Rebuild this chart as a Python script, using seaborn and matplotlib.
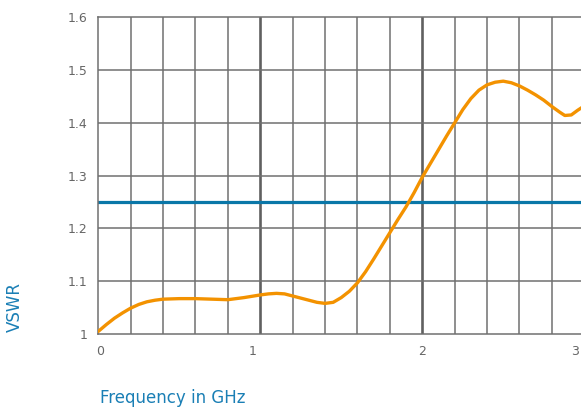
import seaborn as sns
import matplotlib.pyplot as plt
import pandas as pd

# VSWR curve
freq = [0.0, 0.05, 0.1, 0.15, 0.2, 0.25, 0.3, 0.35, 0.4, 0.5, 0.6, 0.7, 0.8, 0.9,
        1.0, 1.05, 1.1, 1.15, 1.2, 1.25, 1.3, 1.35, 1.4, 1.45, 1.5, 1.55, 1.6,
        1.65, 1.7, 1.75, 1.8, 1.85, 1.9, 1.95, 2.0, 2.05, 2.1, 2.15, 2.2, 2.25,
        2.3, 2.35, 2.4, 2.45, 2.5, 2.55, 2.6, 2.65, 2.7, 2.75, 2.8, 2.85, 2.88,
        2.92, 2.96, 3.0]
vswr = [1.005, 1.018, 1.030, 1.040, 1.049, 1.056, 1.061, 1.064, 1.066, 1.067, 1.067, 1.066, 1.065, 1.069,
        1.074, 1.076, 1.077, 1.076, 1.072, 1.068, 1.064, 1.060, 1.058, 1.060, 1.069, 1.081, 1.097,
        1.118, 1.142, 1.167, 1.192, 1.217, 1.241, 1.268, 1.297, 1.323, 1.349, 1.375, 1.400, 1.425,
        1.446, 1.462, 1.472, 1.477, 1.479, 1.476, 1.470, 1.462, 1.453, 1.443, 1.431, 1.420, 1.414,
        1.415, 1.424, 1.432]
limit = 1.25

x_ticks = [0.01, 0.95, 2.0, 2.94]
x_tick_labels = ["0", "1", "2", "3"]
y_ticks = [1.0, 1.1, 1.2, 1.3, 1.4, 1.5, 1.6]
y_tick_labels = ["1", "1.1", "1.2", "1.3", "1.4", "1.5", "1.6"]

df = pd.DataFrame({"Frequency": freq, "VSWR": vswr})

sns.set_style("white")
fig = plt.figure(figsize=(5.81, 4.11), dpi=100)
ax = fig.add_axes([98.3 / 581, (411 - 334) / 411, 1 - 98.3 / 581, (334 - 17.3) / 411])

grid_col = "#707070"
for gx in [0.2 * i for i in range(1, 15)]:
    if abs(gx - 1) < 1e-6 or abs(gx - 2) < 1e-6:
        ax.axvline(gx, color="#606060", lw=1.9, zorder=1)
    else:
        ax.axvline(gx, color=grid_col, lw=1.1, zorder=1)
for gy in y_ticks[1:-1]:
    ax.axhline(gy, color=grid_col, lw=1.1, zorder=1)

ax.axhline(limit, color="#0a77a8", lw=2.3, zorder=2)
sns.lineplot(data=df, x="Frequency", y="VSWR", color="#f39200", lw=2.4, ax=ax, zorder=3)

ax.set_xlim(0, 2.98)
ax.set_ylim(1.0, 1.6)
ax.set_xticks(x_ticks)
ax.set_xticklabels(x_tick_labels)
ax.set_yticks(y_ticks)
ax.set_yticklabels(y_tick_labels)
ax.tick_params(length=0, colors="#666666", labelsize=9, pad=8)
for s in ["left", "top", "bottom"]:
    ax.spines[s].set_color(grid_col)
    ax.spines[s].set_linewidth(1.1)
ax.spines["right"].set_visible(False)
ax.set_xlabel("")
ax.set_ylabel("")

fig.text(15 / 581, 1 - 307 / 411, "VSWR", rotation=90, color="#1a7fb5", fontsize=12,
         ha="center", va="center")
fig.text(100 / 581, 1 - 398 / 411, "Frequency in GHz", color="#1a7fb5", fontsize=12,
         ha="left", va="center")

plt.savefig("out.png", dpi=100)
